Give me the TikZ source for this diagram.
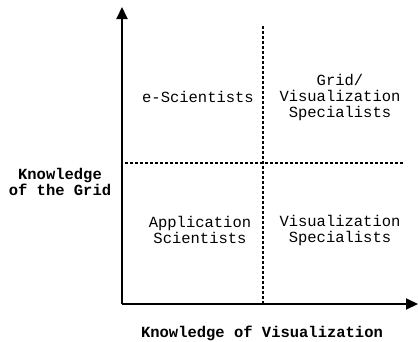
\documentclass[tikz,border=0pt]{standalone}
\usepackage{fontspec}
\setmonofont{Liberation Mono}
\usetikzlibrary{arrows.meta}
\begin{document}
\begin{tikzpicture}[x=1pt,y=-1pt,
  axis/.style={line width=2pt,-{Triangle[length=12pt,width=11pt]}},
  divider/.style={line width=1.3pt,dash pattern=on 3pt off 2pt},
  quad/.style={font=\fontsize{15.5}{16}\selectfont\ttfamily,align=center,inner sep=0pt},
  axlabel/.style={font=\fontsize{15.5}{16}\selectfont\ttfamily\bfseries,align=center,inner sep=0pt}]
\useasboundingbox (0,0) rectangle (418,341);
\coordinate (o) at (122,304);
\coordinate (ytop) at (122,7);
\coordinate (xend) at (418,304);
\coordinate (vtop) at (263,26);
\coordinate (vbot) at (263,304);
\coordinate (hl) at (125,163);
\coordinate (hr) at (404,163);
\draw[divider] (vtop) -- (vbot);
\draw[divider] (hl) -- (hr);
\draw[axis] (o) -- (ytop);
\draw[axis] (o) -- (xend);
\node[quad] (es) at (198,97) {e-Scientists};
\node[quad] (gv) at (340,97) {Grid/\\Visualization\\Specialists};
\node[quad] (as) at (200,230) {Application\\Scientists};
\node[quad] (vs) at (340,230) {Visualization\\Specialists};
\node[axlabel] (yl) at (60,182) {Knowledge\\of the Grid};
\node[axlabel] (xl) at (262,333) {Knowledge of Visualization};
\end{tikzpicture}
\end{document}
